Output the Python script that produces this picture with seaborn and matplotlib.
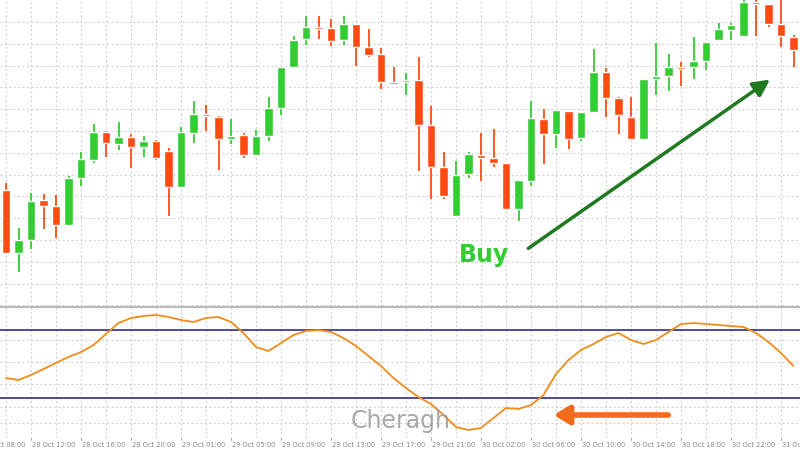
import matplotlib
matplotlib.use("Agg")
import matplotlib.pyplot as plt
import matplotlib.patheffects as pe
import seaborn as sns
import numpy as np
import pandas as pd

# price levels (screen units, larger = lower on chart)
opens  = [190,253,240,200,206,225,178,160,132,144,137,147,141,151,187,133,114,117,139,135,155,136,108,67,39,27,28,40,24,47,54,82,
          82,80,125,167,216,174,155,158,163,209,181,119,134,111,138,112,72,98,117,139,79,76,67,67,61,40,30,36,2,4,24,37]
closes = [253,240,201,206,225,178,159,132,143,137,147,141,158,187,132,114,116,139,136,155,136,108,67,40,27,27,41,24,47,55,82,82,
          80,125,167,196,175,154,158,163,209,180,118,134,110,139,112,72,98,115,139,79,76,67,67,61,42,29,25,2,4,24,36,50]
highs  = [183,228,193,194,195,176,152,124,131,122,134,136,140,148,127,101,105,116,119,133,130,97,67,36,16,16,19,16,24,29,48,67,
          73,57,106,152,161,152,133,129,163,180,101,109,110,111,112,49,68,97,97,79,43,54,62,37,42,23,23,0,0,4,0,35]
lows   = [253,272,249,229,238,225,186,163,157,150,168,157,160,216,187,143,131,170,144,158,156,141,115,68,45,39,46,45,66,57,89,84,
          95,171,199,199,216,178,181,167,209,221,186,164,148,149,141,112,117,134,139,140,95,91,86,79,70,41,40,36,36,27,47,67]
oscillator = [378,380,375,369,363,357,352,345,334,323,318,316,315,317,320,322,318,317,322,333,347,351,343,335,331,330,332,338,346,356,366,378,
              388,397,404,415,427,430,428,418,408,409,405,395,374,360,350,344,337,333,340,344,340,332,324,323,324,325,326,327,333,342,353,366]
tick_pos = [-2,2,6,10,14,18,22,26,30,34,38,42,46,50,54,58,62]
tick_labels = ["28 Oct 08:00","28 Oct 12:00","28 Oct 16:00","28 Oct 20:00","29 Oct 01:00","29 Oct 05:00","29 Oct 09:00",
               "29 Oct 13:00","29 Oct 17:00","29 Oct 21:00","30 Oct 02:00","30 Oct 06:00","30 Oct 10:00","30 Oct 14:00",
               "30 Oct 18:00","30 Oct 22:00","31 Oct 02:00"]
levels = [330, 398]

sns.set_style("white")
W, H = 800, 450
fig = plt.figure(figsize=(8, 4.5), dpi=100)
fig.patch.set_facecolor("white")

def px_axes(x0, y0, x1, y1):
    return fig.add_axes([x0 / W, 1 - y1 / H, (x1 - x0) / W, (y1 - y0) / H])

XL = (-0.48, 63.52)
RED, GREEN = "#ff4b12", "#33cc33"
grid_kw = dict(color="#c8c8c8", lw=0.8, ls=(0, (1.5, 2.5)))

ax = px_axes(0, 0, 800, 306)
n = len(opens)
idx = np.arange(n)
for g in np.arange(0, 64, 2):
    ax.axvline(g, **grid_kw, zorder=0)
for g in np.arange(22, 306, 21.8):
    ax.axhline(g, **grid_kw, zorder=0)
for i in idx:
    up = closes[i] < opens[i]
    c = GREEN if up else RED
    ax.vlines(i, highs[i], lows[i], color=c, lw=1.3, zorder=2)
    top, bot = min(opens[i], closes[i]), max(opens[i], closes[i])
    ax.bar(i, max(bot - top, 1.5), bottom=top, width=0.66, color=c, zorder=3)
ax.set_xlim(*XL)
ax.set_ylim(306, 0)
ax.axis("off")
ax.annotate("", xy=(61.3, 78), xytext=(41.6, 250),
            arrowprops=dict(arrowstyle="-|>,head_length=1.0,head_width=0.5", color="#1f7a1f", lw=2.5,
                            path_effects=[pe.withSimplePatchShadow(offset=(1, -1), shadow_rgbFace="#888", alpha=0.5)]),
            zorder=5)
ax.text(38.2, 255, "Buy", color="#33cc33", fontsize=17, fontweight="bold", ha="center", va="center", zorder=5)

ax2 = px_axes(0, 306, 800, 438)
for g in np.arange(0, 64, 2):
    ax2.axvline(g, **grid_kw, zorder=0)
for g in [340, 362, 384, 407, 423]:
    ax2.axhline(g, **grid_kw, zorder=0)
df = pd.DataFrame({"i": idx, "osc": oscillator})
sns.lineplot(data=df, x="i", y="osc", ax=ax2, color="#f08c1a", lw=1.3, zorder=3)
for lv in levels:
    ax2.axhline(lv, color="#1a1a80", lw=1.1, zorder=2)
ax2.set_xlim(*XL)
ax2.set_ylim(438, 306)
ax2.axis("off")
ax2.plot([-1, 70], [306.5, 306.5], color="#bbbbbb", lw=1.5, clip_on=False)
ax2.annotate("", xy=(43.6, 415), xytext=(53.2, 415),
             arrowprops=dict(arrowstyle="-|>,head_length=0.9,head_width=0.55", color="#f26a1b", lw=4,
                             path_effects=[pe.withSimplePatchShadow(offset=(1, -1), shadow_rgbFace="#999", alpha=0.5)]),
             zorder=5)
ax2.text(31.6, 421, "Cheragh", color="#9a9a9a", fontsize=17, ha="center", va="center", alpha=0.85, zorder=4)

ax3 = px_axes(0, 438, 800, 450)
ax3.set_facecolor("#f2f2f2")
ax3.set_xlim(*XL)
ax3.set_ylim(0, 1)
for p, lab in zip(tick_pos, tick_labels):
    ax3.plot([p, p], [0.85, 1.0], color="#999999", lw=0.6)
    ax3.text(p + 0.1, 0.45, lab, fontsize=4.8, color="#888888", ha="left", va="center")
ax3.axis("off")
ax3.patch.set_visible(True)

fig.savefig("out.png", dpi=100)
